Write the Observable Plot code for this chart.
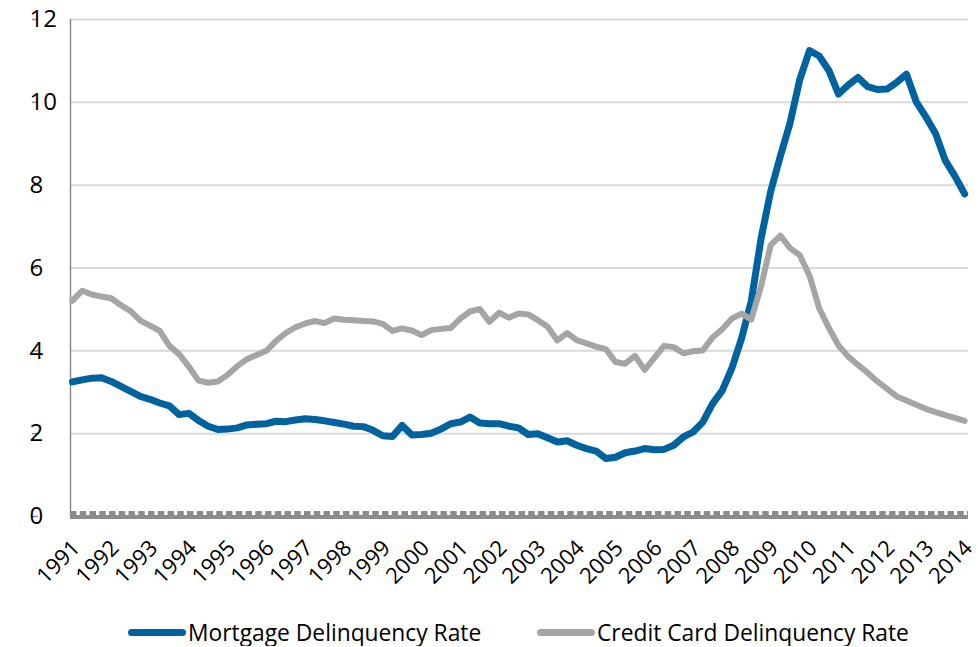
<!DOCTYPE html>
<html><head><meta charset="utf-8">
<script src="https://cdn.jsdelivr.net/npm/d3@7"></script>
<script src="https://cdn.jsdelivr.net/npm/@observablehq/plot@0.6"></script>
<style>
body{margin:0;background:#fff;font-family:"Open Sans",sans-serif;}
#chart{position:relative;width:978px;height:646px;}
.legend{position:absolute;top:619px;left:0;width:978px;height:27px;font-size:22.8px;line-height:27px;color:#000;}
.item{position:absolute;top:0;display:flex;align-items:center;height:27px;white-space:nowrap;}
.sw{display:inline-block;width:58px;height:7px;border-radius:4px;margin-right:2px;}
</style></head><body><div id="chart"></div><script>
const yearLabels = ["1991","1992","1993","1994","1995","1996","1997","1998","1999","2000","2001","2002","2003","2004","2005","2006","2007","2008","2009","2010","2011","2012","2013","2014"];
const yTicks = [0,2,4,6,8,10,12];
// quarterly, 1991Q1 .. 2014Q1
const mortgage = [3.25,3.30,3.34,3.35,3.26,3.14,3.02,2.90,2.83,2.74,2.67,2.46,2.49,2.32,2.18,2.10,2.11,2.14,2.21,2.23,2.24,2.30,2.29,2.33,2.36,2.34,2.31,2.27,2.23,2.18,2.17,2.08,1.95,1.93,2.20,1.97,1.98,2.01,2.11,2.24,2.28,2.40,2.26,2.24,2.24,2.18,2.14,1.98,2.00,1.90,1.80,1.83,1.72,1.64,1.58,1.40,1.43,1.54,1.58,1.64,1.61,1.62,1.72,1.92,2.04,2.28,2.72,3.04,3.58,4.30,5.20,6.70,7.85,8.70,9.50,10.55,11.25,11.12,10.77,10.20,10.42,10.60,10.38,10.31,10.32,10.48,10.68,10.02,9.65,9.25,8.60,8.22,7.79];
const creditCard = [5.21,5.45,5.36,5.31,5.27,5.10,4.96,4.73,4.61,4.48,4.12,3.92,3.62,3.28,3.23,3.26,3.42,3.63,3.80,3.90,4.00,4.24,4.43,4.57,4.66,4.72,4.67,4.78,4.75,4.74,4.72,4.71,4.65,4.48,4.54,4.49,4.38,4.50,4.53,4.55,4.78,4.95,5.01,4.70,4.92,4.80,4.90,4.88,4.74,4.58,4.25,4.43,4.26,4.18,4.10,4.04,3.73,3.69,3.88,3.54,3.83,4.12,4.09,3.94,3.99,4.01,4.32,4.52,4.78,4.90,4.76,5.55,6.55,6.78,6.48,6.31,5.82,5.03,4.55,4.13,3.86,3.66,3.47,3.26,3.08,2.90,2.80,2.70,2.60,2.52,2.45,2.38,2.31];
const seriesNames = ["Mortgage Delinquency Rate","Credit Card Delinquency Rate"];
const colors = ["#0063a0","#a5a5a5"];

const rows = mortgage.map((m, i) => ({i, m, c: creditCard[i]}));
const labelIdx = yearLabels.map((_, k) => k * 4);
const xDomain = [-0.2, mortgage.length - 1 + 0.4];
const axisGray = "#8c8c8c";

const plot = Plot.plot({
  width: 978, height: 600,
  marginLeft: 70, marginRight: 10, marginTop: 19, marginBottom: 84,
  style: {fontFamily: "'Open Sans', sans-serif", fontSize: "22px", color: "#000", background: "#fff"},
  x: {domain: xDomain, axis: null, label: null},
  y: {domain: [0, 12], axis: null, label: null},
  marks: [
    Plot.gridY(yTicks, {stroke: "#d9d9d9", strokeOpacity: 1, strokeWidth: 2}),
    Plot.axisY(yTicks, {tickSize: 6, stroke: axisGray, strokeWidth: 1.5, textAnchor: "start", dx: -32, fontSize: 24, fill: "#000", label: null}),
    Plot.ruleX([xDomain[0]], {stroke: axisGray, strokeWidth: 1.5}),
    Plot.line(rows, {x: "i", y: "m", stroke: colors[0], strokeWidth: 7, strokeLinejoin: "round", strokeLinecap: "round"}),
    Plot.line(rows, {x: "i", y: "c", stroke: colors[1], strokeWidth: 6, strokeLinejoin: "round", strokeLinecap: "round"}),
    Plot.ruleY([0], {stroke: axisGray, strokeWidth: 4, dy: 0.5}),
    Plot.ruleY([0], {stroke: axisGray, strokeWidth: 4, dy: -3.5, strokeDasharray: "6.5 3.25"}),
    Plot.axisX(labelIdx, {tickSize: 0, tickRotate: -45, textAnchor: "end", tickFormat: i => yearLabels[i / 4], fontSize: 22, fill: "#000", dx: 4, dy: 16, label: null})
  ]
});
const chart = document.getElementById("chart");
chart.appendChild(plot);
const legend = document.createElement("div");
legend.className = "legend";
const lefts = [128, 537];
seriesNames.forEach((name, k) => {
  const it = document.createElement("div");
  it.className = "item";
  it.style.left = lefts[k] + "px";
  it.innerHTML = `<span class="sw" style="background:${colors[k]}"></span><span>${name}</span>`;
  legend.appendChild(it);
});
chart.appendChild(legend);
</script></body></html>
